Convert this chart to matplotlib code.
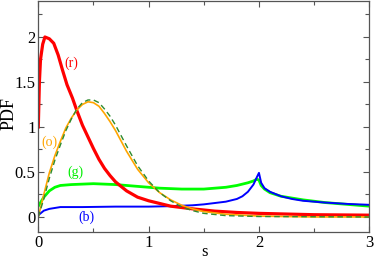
import numpy as np
import matplotlib.pyplot as plt
from matplotlib.ticker import MultipleLocator

plt.rcParams["font.family"] = ["Liberation Serif", "DejaVu Serif"]

# (r) red curve
s_r = [0.0, 0.01, 0.02, 0.04, 0.06, 0.1, 0.14, 0.18, 0.22, 0.26, 0.31, 0.35, 0.4, 0.45,
       0.5, 0.55, 0.6, 0.65, 0.7, 0.8, 0.9, 1.0, 1.1, 1.2, 1.4, 1.6, 1.8, 2.0, 2.5, 3.0]
p_r = [1.0, 1.5, 1.75, 1.92, 2.0, 1.98, 1.93, 1.8, 1.63, 1.47, 1.32, 1.18, 1.02, 0.89,
       0.76, 0.64, 0.54, 0.46, 0.39, 0.29, 0.22, 0.18, 0.15, 0.12, 0.09, 0.065, 0.05, 0.04, 0.025, 0.02]

# (o) orange curve
s_o = [0.0, 0.05, 0.1, 0.15, 0.2, 0.25, 0.3, 0.35, 0.4, 0.45, 0.5, 0.55, 0.6, 0.65, 0.7,
       0.8, 0.9, 1.0, 1.1, 1.2, 1.3, 1.4, 1.5, 1.7, 2.0, 2.5, 3.0]
p_o = [0.0, 0.25, 0.49, 0.68, 0.84, 0.99, 1.1, 1.19, 1.25, 1.28, 1.27, 1.23, 1.15, 1.06, 0.96,
       0.73, 0.53, 0.38, 0.27, 0.19, 0.13, 0.09, 0.06, 0.03, 0.01, 0.0, 0.0]

# dashed fit
s_d = [0.0, 0.05, 0.1, 0.15, 0.2, 0.25, 0.3, 0.35, 0.4, 0.45, 0.5, 0.55, 0.6, 0.65, 0.7,
       0.8, 0.9, 1.0, 1.1, 1.2, 1.3, 1.4, 1.5, 1.7, 2.0, 3.0]
p_d = [0.0, 0.2, 0.43, 0.63, 0.8, 0.96, 1.09, 1.2, 1.27, 1.3, 1.3, 1.27, 1.2, 1.12, 1.02,
       0.79, 0.57, 0.4, 0.27, 0.18, 0.11, 0.07, 0.04, 0.015, 0.005, 0.0]

# (g) green curve
s_g = [0.0, 0.05, 0.1, 0.15, 0.2, 0.3, 0.5, 0.7, 0.9, 1.1, 1.3, 1.5, 1.7, 1.8, 1.9, 1.95,
       1.98, 2.0, 2.02, 2.05, 2.1, 2.2, 2.4, 2.6, 2.8, 3.0]
p_g = [0.12, 0.22, 0.29, 0.33, 0.35, 0.36, 0.37, 0.36, 0.34, 0.32, 0.31, 0.31, 0.33, 0.35, 0.38, 0.4,
       0.42, 0.41, 0.35, 0.31, 0.27, 0.23, 0.19, 0.16, 0.14, 0.12]

# (b) blue curve
s_b = [0.0, 0.05, 0.1, 0.2, 0.4, 0.7, 1.0, 1.2, 1.4, 1.5, 1.6, 1.7, 1.8, 1.85, 1.9, 1.95,
       1.98, 2.0, 2.02, 2.05, 2.1, 2.2, 2.3, 2.4, 2.6, 2.8, 3.0]
p_b = [0.02, 0.07, 0.09, 0.11, 0.11, 0.115, 0.115, 0.12, 0.13, 0.14, 0.155, 0.17, 0.2, 0.23, 0.28, 0.36,
       0.44, 0.49, 0.38, 0.32, 0.28, 0.23, 0.2, 0.18, 0.16, 0.145, 0.135]

fig = plt.figure(figsize=(3.74, 2.60), dpi=100)
ax = fig.add_axes([0.1024, 0.1077, 0.885, 0.8885])

ax.plot(s_g, p_g, color="#00ff00", lw=2.0)
ax.plot(s_b, p_b, color="#0000ff", lw=1.4)
ax.plot(s_r, p_r, color="#ff0000", lw=2.3)
ax.plot(s_o, p_o, color="#ffa500", lw=1.2)
ax.plot(s_d, p_d, color="#2e8b2e", lw=1.0, ls=(0, (4, 2.5)))

fs = 12
ax.text(0.30, 1.71, "(r)", color="#ff0000", fontsize=10, ha="center", va="center")
ax.text(0.10, 0.83, "(o)", color="#ffa500", fontsize=10, ha="center", va="center")
ax.text(0.34, 0.50, "(g)", color="#00ee00", fontsize=10, ha="center", va="center")
ax.text(0.44, 0.00, "(b)", color="#0000ff", fontsize=10, ha="center", va="center")

ax.set_xlim(0, 3)
ax.set_ylim(-0.167, 2.4)
ax.xaxis.set_major_locator(MultipleLocator(1))
ax.xaxis.set_minor_locator(MultipleLocator(0.5))
ax.yaxis.set_major_locator(MultipleLocator(0.5))
ax.yaxis.set_minor_locator(MultipleLocator(0.25))
ax.set_yticks([0, 0.5, 1, 1.5, 2])
ax.set_yticklabels(["0", "0.5", "1", "1.5", "2"])
ax.tick_params(which="both", direction="in", top=True, right=True, color="#555555",
               labelsize=fs, pad=2)
ax.tick_params(which="major", length=4.5, width=0.8)
ax.tick_params(which="minor", length=3, width=0.8)
for sp in ax.spines.values():
    sp.set_color("#555555")
    sp.set_linewidth(0.9)

fig.text(1.0 / 374, 1 - 114.0 / 260, "PDF", fontsize=13, rotation=90,
         ha="left", va="center")
fig.text(0.548, 4.0 / 260, "s", fontsize=fs, ha="center", va="baseline")

fig.savefig("out.png", dpi=100)
